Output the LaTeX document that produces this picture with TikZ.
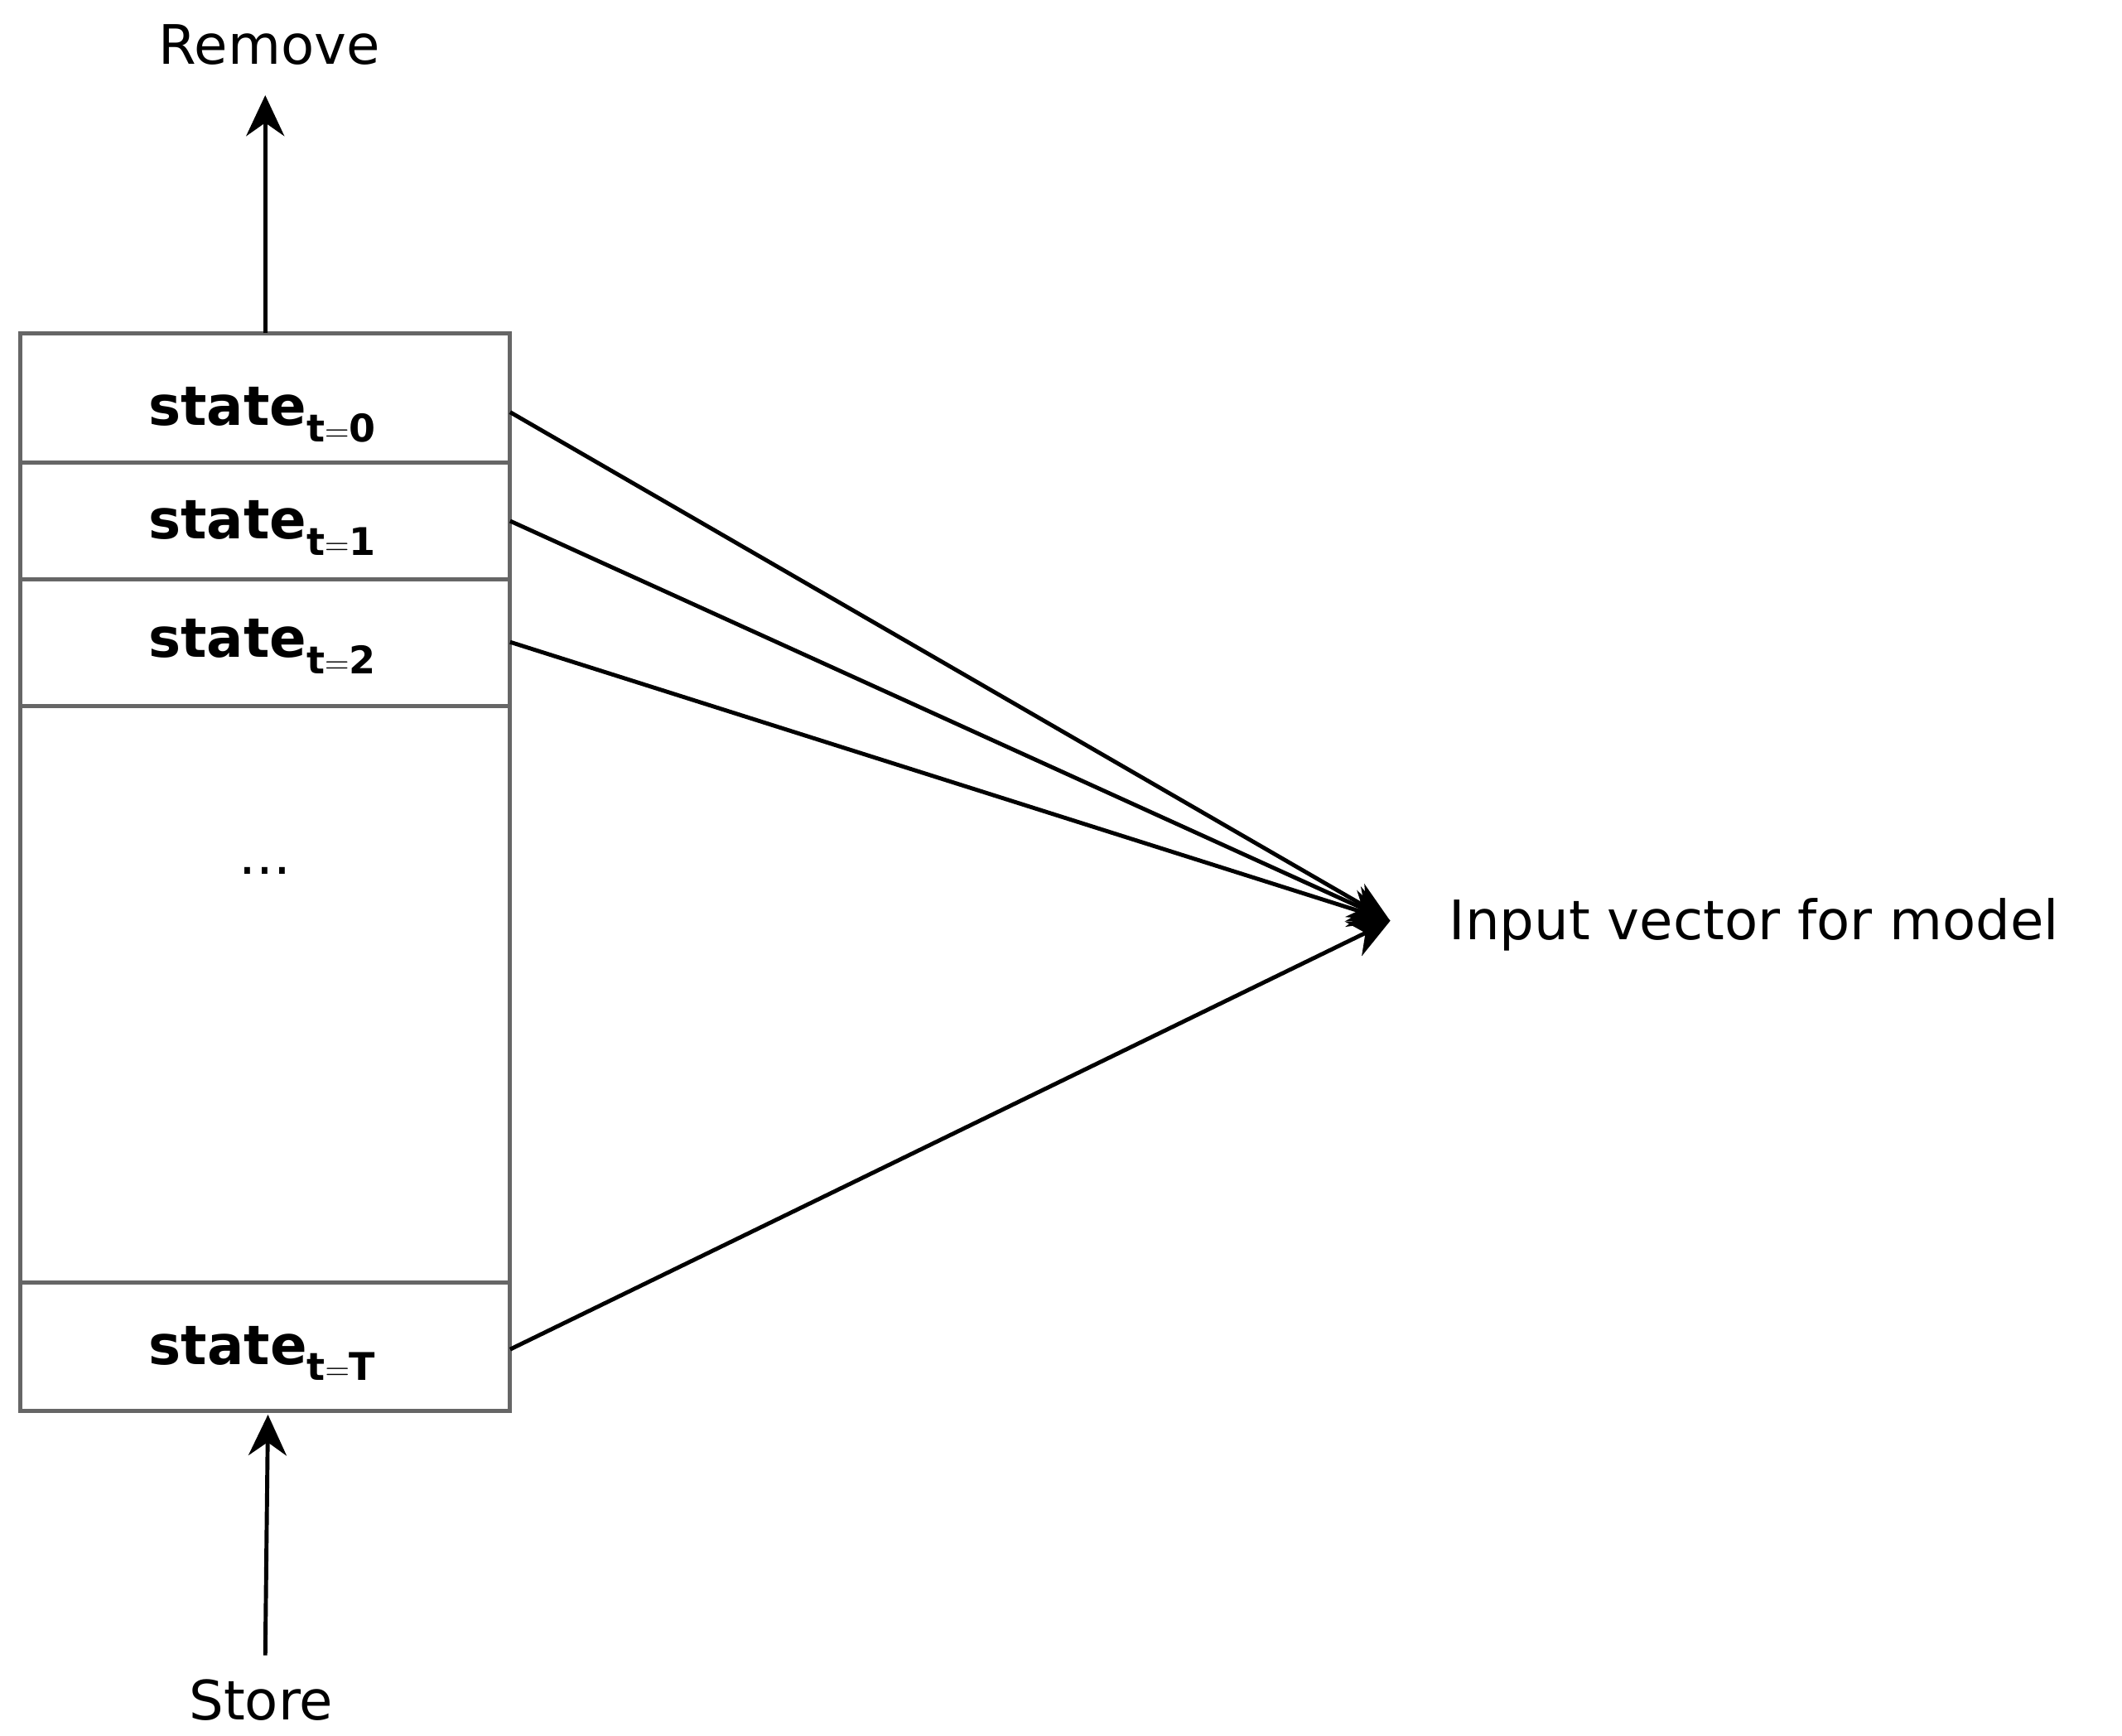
\documentclass[tikz,border=0pt]{standalone}
\usepackage{fontspec}
\setmainfont{DejaVu Sans}
\usetikzlibrary{arrows.meta}
\begin{document}
\begin{tikzpicture}[x=1pt,y=-1pt,
  cell/.style={draw=black!60,line width=3pt},
  lbl/.style={font=\fontsize{40}{48}\selectfont},
  st/.style={font=\fontsize{40}{48}\selectfont\bfseries},
  arr/.style={line width=3pt,-{Stealth[length=30pt,width=28pt]}},
  ln/.style={line width=3pt}]
\useasboundingbox (0,0) rectangle (1560,1276);
\draw[cell] (15,245) rectangle (375,1037);
\foreach \y in {340,426,519,943} \draw[cell] (15,\y) -- (375,\y);
\node[st] (s0) at (193,305) {state$_{\mathbf{t=0}}$};
\node[st] (s1) at (193,388) {state$_{\mathbf{t=1}}$};
\node[st] (s2) at (193,475) {state$_{\mathbf{t=2}}$};
\node[lbl] (dots) at (195,640) {...};
\node[st] (sT) at (193,995) {state$_{\mathbf{t=T}}$};
\node[lbl] (rem) at (198,33) {Remove};
\node[lbl] (sto) at (192,1250) {Store};
\node[lbl,anchor=west] (inp) at (1062,680) {Input vector for model};
\coordinate (top) at (195,245);
\coordinate (topend) at (195,70);
\coordinate (bot) at (195,1217);
\coordinate (botend) at (197,1040);
\coordinate (p0) at (375,303);
\coordinate (p1) at (375,383);
\coordinate (p2) at (375,472);
\coordinate (pT) at (375,992);
\coordinate (tgt) at (1022,677);
\draw[arr] (top) -- (topend);
\draw[arr] (bot) -- (botend);
\foreach \p in {p0,p1,p2,pT} \draw[arr] (\p) -- (tgt);
\end{tikzpicture}
\end{document}
